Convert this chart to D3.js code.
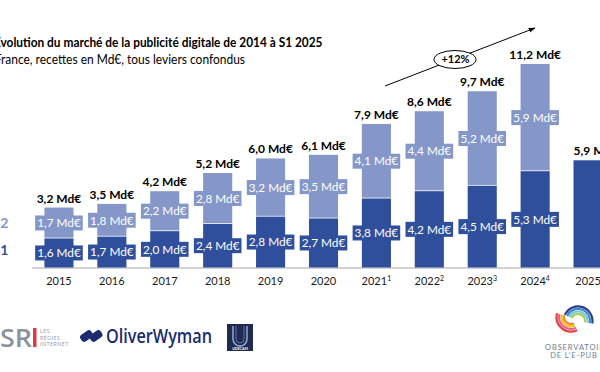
<!DOCTYPE html>
<html><head><meta charset="utf-8">
<script src="https://cdn.jsdelivr.net/npm/d3@7"></script>
<style>html,body{margin:0;padding:0;background:#fff;overflow:hidden}svg{display:block;font-family:Lato,"Open Sans",sans-serif}</style>
</head><body><svg id="c" width="600" height="372"></svg>
<script>
// ---- data ----
const years = ["2015","2016","2017","2018","2019","2020","2021","2022","2023","2024","2025"];
const yearSup = ["","","","","","","1","2","3","4",""];
const s1 = [1.6,1.7,2.0,2.4,2.8,2.7,3.8,4.2,4.5,5.3,5.9];
const s2 = [1.7,1.8,2.2,2.8,3.2,3.5,4.1,4.4,5.2,5.9,null];
const s1Labels = ["1,6 Md€","1,7 Md€","2,0 Md€","2,4 Md€","2,8 Md€","2,7 Md€","3,8 Md€","4,2 Md€","4,5 Md€","5,3 Md€",null];
const s2Labels = ["1,7 Md€","1,8 Md€","2,2 Md€","2,8 Md€","3,2 Md€","3,5 Md€","4,1 Md€","4,4 Md€","5,2 Md€","5,9 Md€",null];
const totalLabels = ["3,2 Md€","3,5 Md€","4,2 Md€","5,2 Md€","6,0 Md€","6,1 Md€","7,9 Md€","8,6 Md€","9,7 Md€","11,2 Md€","5,9 Md€"];
const seriesNames = ["S1","S2"];
const growthLabel = "+12%";
const title = "Évolution du marché de la publicité digitale de 2014 à S1 2025";
const subtitle = "France, recettes en Md€, tous leviers confondus";

// ---- styles ----
const C1 = "#2f4f9c", C2 = "#8497c8";
const svg = d3.select("#c");

const x = d3.scaleBand().domain(years).range([20.6, 626.4]).paddingInner(0.45).paddingOuter(0.45);
const y = d3.scaleLinear().domain([0, 11.2]).range([267.5, 64]);

// titles (first letter clipped off the left edge as in the reference)
function clippedText(str, fs, weight, target, startX, baseY){
  const t = svg.append("text").attr("y", baseY).attr("font-size", fs)
    .attr("font-weight", weight).attr("fill", "#000").text(str);
  const W = t.node().getComputedTextLength();
  const e = t.node().getSubStringLength(0,1);
  const s = target / (W - e);
  t.attr("textLength", W*s).attr("lengthAdjust","spacingAndGlyphs").attr("x", startX - e*s);
}
clippedText(title, 13, 700, 322, 0.5, 47);
clippedText(subtitle, 13, 400, 244, 1, 63.5);

// baseline
svg.append("line").attr("x1", 32).attr("x2", 600).attr("y1", y(0)+0.5).attr("y2", y(0)+0.5)
  .attr("stroke", "#a6a6a6").attr("stroke-width", 1);

const rows = years.map((yr,i)=>({yr, i, a:s1[i], b:s2[i]}));
const g = svg.append("g");
// S1 bars
g.selectAll(".b1").data(rows).join("rect")
  .attr("x", d=>x(d.yr)).attr("width", x.bandwidth())
  .attr("y", d=>y(d.a)).attr("height", d=>y(0)-y(d.a)).attr("fill", C1);
// S2 bars
g.selectAll(".b2").data(rows.filter(d=>d.b!=null)).join("rect")
  .attr("x", d=>x(d.yr)).attr("width", x.bandwidth())
  .attr("y", d=>y(d.a+d.b)).attr("height", d=>y(d.a)-y(d.a+d.b)-0.8).attr("fill", C2);

// inner labels with boxes
function innerLabel(d, lo, hi, txt, col){
  const cx = x(d.yr) + x.bandwidth()/2, cy = (y(lo)+y(hi))/2;
  const gg = g.append("g");
  const r = gg.append("rect").attr("fill", col);
  const t = gg.append("text").attr("x", cx).attr("y", cy).attr("dy", "0.36em")
    .attr("text-anchor", "middle").attr("font-size", 11.8).attr("fill", "#fff").text(txt);
  const w = t.node().getComputedTextLength();
  r.attr("x", cx - w/2 - 2).attr("width", w + 4).attr("y", cy - 7.5).attr("height", 15);
}
rows.forEach(d=>{
  if (s1Labels[d.i]) innerLabel(d, 0, d.a, s1Labels[d.i], C1);
  if (s2Labels[d.i]) innerLabel(d, d.a, d.a+d.b, s2Labels[d.i], C2);
});

// totals
g.selectAll(".tot").data(rows).join("text")
  .attr("x", d=> d.b==null ? x(d.yr) : x(d.yr)+x.bandwidth()/2)
  .attr("text-anchor", d=> d.b==null ? "start" : "middle")
  .attr("y", d=>y(d.a + (d.b||0)) - 5)
  .attr("font-size", 12).attr("font-weight", 700).attr("fill", "#000")
  .text(d=>totalLabels[d.i]);

// year labels
const yl = g.selectAll(".yl").data(rows).join("text")
  .attr("x", d=>x(d.yr)+x.bandwidth()/2).attr("y", 285)
  .attr("text-anchor", "middle").attr("font-size", 11).attr("fill", "#1a1a1a");
yl.append("tspan").text(d=>d.yr);
yl.append("tspan").attr("font-size", 7).attr("dy", -4.5).text(d=>yearSup[d.i]);

// series labels at left (clipped)
svg.append("text").attr("x", 8.5).attr("y", y((s1[0]+s1[0]+s2[0])/2)).attr("dy","0.36em")
  .attr("text-anchor","end").attr("font-size",14).attr("font-weight",700).attr("fill",C2).text(seriesNames[1]);
svg.append("text").attr("x", 8.5).attr("y", y(s1[0]/2)-3).attr("dy","0.36em")
  .attr("text-anchor","end").attr("font-size",14).attr("font-weight",700).attr("fill",C1).text(seriesNames[0]);

// growth arrow
const defs = svg.append("defs");
defs.append("marker").attr("id","ah").attr("viewBox","0 0 10 10").attr("refX",9).attr("refY",5)
  .attr("markerWidth",7).attr("markerHeight",7).attr("orient","auto")
  .append("path").attr("d","M0,1.5 L10,5 L0,8.5 Z").attr("fill","#000");
svg.append("line").attr("x1",385).attr("y1",86).attr("x2",535).attr("y2",28)
  .attr("stroke","#000").attr("stroke-width",1).attr("marker-end","url(#ah)");
svg.append("ellipse").attr("cx",455).attr("cy",59.5).attr("rx",21).attr("ry",9)
  .attr("fill","#fff").attr("stroke","#000").attr("stroke-width",1);
svg.append("text").attr("x",455.5).attr("y",59.5).attr("dy","0.36em").attr("text-anchor","middle")
  .attr("font-size",11).attr("font-weight",700).attr("fill","#000").text(growthLabel);

// ---- logos (approximations) ----
const L = svg.append("g");
// SRI
L.append("text").attr("x",0).attr("y",347).attr("font-family","'Open Sans'").attr("font-weight",600)
  .attr("font-size",26).attr("fill","#8c939b").attr("textLength",32).attr("lengthAdjust","spacingAndGlyphs").text("SR");
L.append("rect").attr("x",33).attr("y",328).attr("width",3.5).attr("height",19).attr("fill","#e03a3e");
["LES","RÉGIES","INTERNET"].forEach((s,i)=>L.append("text").attr("x",40).attr("y",333+i*6.5)
  .attr("font-size",5.2).attr("letter-spacing",0.5).attr("fill","#9aa0a6").text(s));
// Oliver Wyman
L.append("rect").attr("x",-6.5).attr("y",-4).attr("width",13).attr("height",8).attr("rx",3)
  .attr("transform","translate(86.5,336) rotate(-35)").attr("fill","#1c2b6e");
L.append("rect").attr("x",-6.5).attr("y",-4).attr("width",13).attr("height",8).attr("rx",3)
  .attr("transform","translate(96,336) rotate(-35)").attr("fill","#1c2b6e");
L.append("text").attr("x",106).attr("y",343).attr("font-family","'Open Sans'").attr("font-weight",600)
  .attr("font-size",19).attr("fill","#1c2b6e").attr("textLength",106).attr("lengthAdjust","spacingAndGlyphs").text("OliverWyman");
// UDECAM
L.append("rect").attr("x",227).attr("y",324).attr("width",26).attr("height",27).attr("fill","#1f2c50");
L.append("path").attr("d","M233,326 V339 a7,7 0 0 0 14,0 V326").attr("fill","none").attr("stroke","#9bb0d8").attr("stroke-width",1.4);
L.append("path").attr("d","M236,326 V339 a4,4 0 0 0 8,0 V326").attr("fill","none").attr("stroke","#5a76b0").attr("stroke-width",1);
L.append("text").attr("x",240).attr("y",349.5).attr("text-anchor","middle").attr("font-size",3.6)
  .attr("font-weight",700).attr("fill","#fff").text("UDECAM");
// Observatoire de l'e-pub
const arc = d3.arc();
const deg = Math.PI/180;
[["#2b3f8f",14.5],["#3f86c8",12],["#77c6e2",9.5],["#a6cf4a",7]].forEach(([c,r])=>{
  L.append("path").attr("transform","translate(578,321)")
    .attr("d", arc({innerRadius:r-1.1, outerRadius:r+1.1, startAngle:-65*deg, endAngle:100*deg})).attr("fill",c);
});
[["#e2443a",14.5],["#e8609b",12],["#f0c419",9.5],["#f08a2c",7]].forEach(([c,r])=>{
  L.append("path").attr("transform","translate(571,317)")
    .attr("d", arc({innerRadius:r-1.1, outerRadius:r+1.1, startAngle:155*deg, endAngle:285*deg})).attr("fill",c);
});
L.append("text").attr("x",545).attr("y",350).attr("font-size",7.5).attr("letter-spacing",0.9)
  .attr("fill","#6f7d8c").text("OBSERVATOIRE");
L.append("text").attr("x",574).attr("y",358).attr("text-anchor","middle").attr("font-size",7.5).attr("letter-spacing",0.9)
  .attr("fill","#6f7d8c").text("DE L'E-PUB");
</script></body></html>
